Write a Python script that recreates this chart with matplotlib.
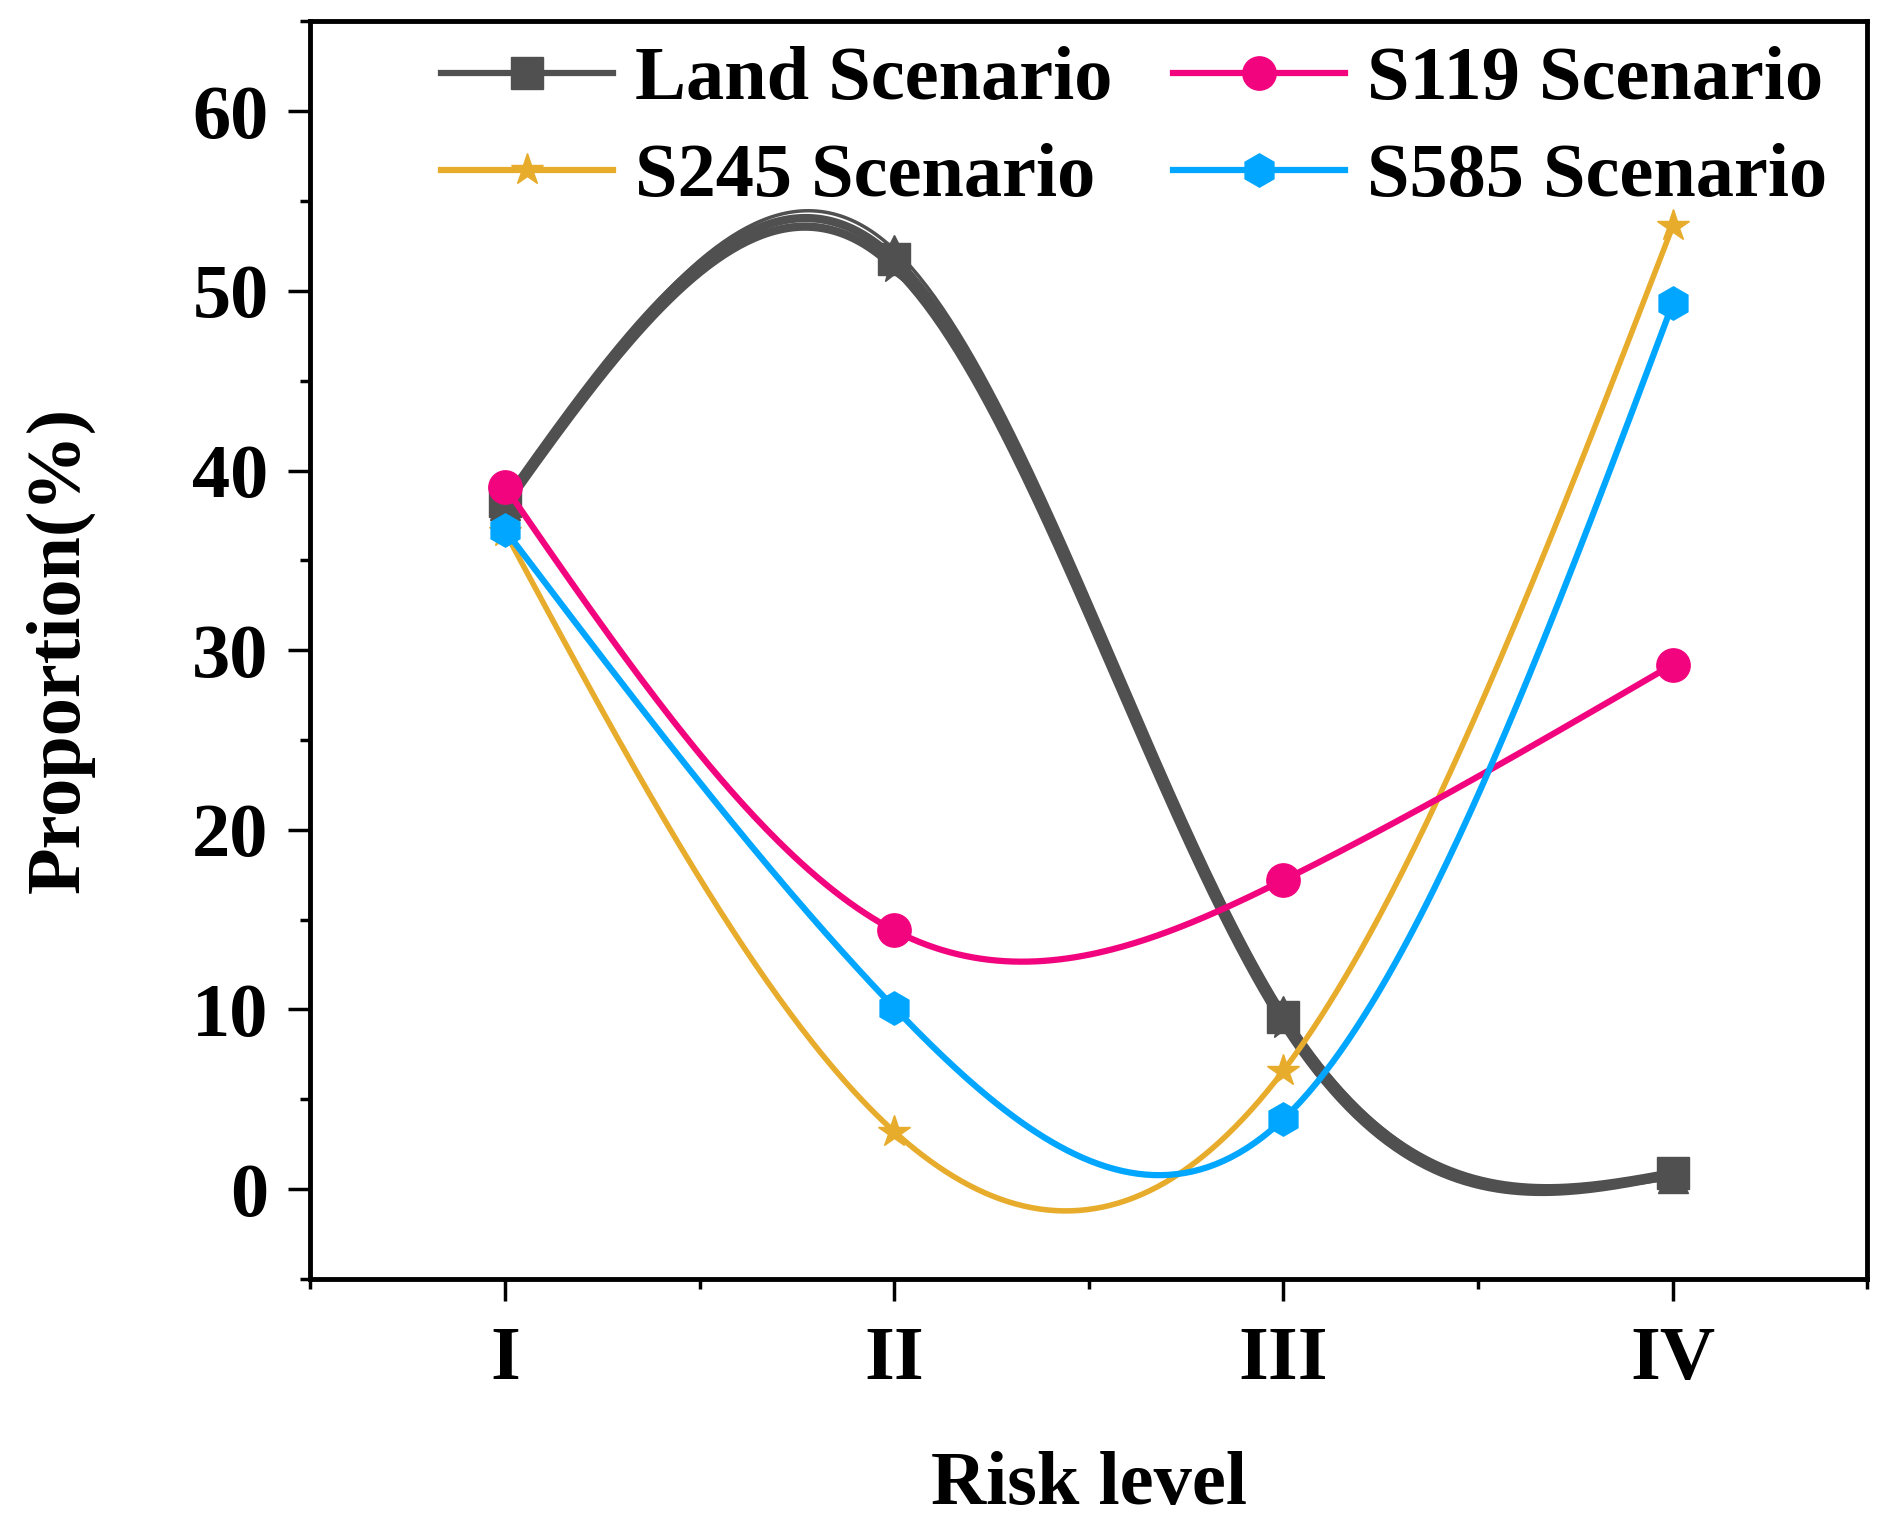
import numpy as np
import matplotlib
matplotlib.use("Agg")
import matplotlib.pyplot as plt

# data
levels = [1, 2, 3, 4]
level_labels = ["I", "II", "III", "IV"]

land_a = [38.3, 51.8, 9.6, 0.9]
land_b = [38.0, 51.3, 9.2, 0.8]
land_c = [38.1, 52.3, 9.9, 0.6]
s119 = [39.1, 14.4, 17.2, 29.2]
s245 = [36.6, 3.2, 6.6, 53.6]
s585 = [36.7, 10.1, 3.9, 49.3]


def natural_spline(x, y, n=300):
    # natural cubic spline through the points (like Origin's "Spline" connect)
    x = np.asarray(x, float)
    y = np.asarray(y, float)
    m = len(x)
    h = np.diff(x)
    A = np.zeros((m, m))
    b = np.zeros(m)
    A[0, 0] = A[-1, -1] = 1
    for i in range(1, m - 1):
        A[i, i - 1] = h[i - 1]
        A[i, i] = 2 * (h[i - 1] + h[i])
        A[i, i + 1] = h[i]
        b[i] = 3 * ((y[i + 1] - y[i]) / h[i] - (y[i] - y[i - 1]) / h[i - 1])
    c = np.linalg.solve(A, b)
    xs = np.linspace(x[0], x[-1], n)
    idx = np.clip(np.searchsorted(x, xs) - 1, 0, m - 2)
    t = xs - x[idx]
    bb = (y[idx + 1] - y[idx]) / h[idx] - h[idx] * (2 * c[idx] + c[idx + 1]) / 3
    dd = (c[idx + 1] - c[idx]) / (3 * h[idx])
    ys = y[idx] + bb * t + c[idx] * t ** 2 + dd * t ** 3
    return xs, ys


plt.rcParams['font.family'] = ['Liberation Serif', 'DejaVu Serif']
plt.rcParams['font.weight'] = 'bold'
plt.rcParams['font.size'] = 55

fig = plt.figure(figsize=(18.92, 15.28), dpi=100)
ax = fig.add_axes([0.164, 0.163, 0.823, 0.823])

gray = '#505050'
pink = '#F2047F'
gold = '#E8AC2C'
blue = '#00A6FF'


def draw(vals, color, marker, ms, lw, label=None, z=2):
    xs, ys = natural_spline(levels, vals)
    ax.plot(xs, ys, color=color, lw=lw, zorder=z, solid_capstyle='round')
    ax.plot(levels, vals, ls='none', marker=marker, ms=ms, color=color, zorder=z + 0.5)
    # proxy for the legend
    return ax.plot([], [], color=color, lw=4.5, marker=marker, ms=ms, label=label)[0]


draw(land_c, gray, '^', 21, 2.5, z=2)
h_land = draw(land_a, gray, 's', 23, 6, 'Land Scenario', z=2)
draw(land_b, gray, '*', 23, 6, z=2)
h245 = draw(s245, gold, '*', 24, 4, 'S245 Scenario', z=3)
h119 = draw(s119, pink, 'o', 24, 4.5, 'S119 Scenario', z=4)
h585 = draw(s585, blue, 'h', 24, 4.5, 'S585 Scenario', z=5)

ax.set_xlim(0.5, 4.5)
ax.set_ylim(-5, 65)
ax.set_xticks(levels)
ax.set_xticklabels(level_labels)
ax.set_xticks([0.5, 1.5, 2.5, 3.5, 4.5], minor=True)
ax.set_yticks([0, 10, 20, 30, 40, 50, 60])
ax.set_yticks(np.arange(-5, 66, 5), minor=True)

for s in ax.spines.values():
    s.set_linewidth(3.5)
ax.tick_params(which='major', direction='out', length=16, width=2.5)
ax.tick_params(which='minor', direction='out', length=7, width=2.5)
ax.tick_params(axis='x', which='major', pad=18)
ax.tick_params(axis='y', which='major', pad=14)

ax.set_xlabel('Risk level', labelpad=40, fontweight='bold')
ax.set_ylabel('Proportion(%)', labelpad=70, fontweight='bold')

ax.legend(handles=[h_land, h245, h119, h585], ncol=2, frameon=False,
          loc='upper right', bbox_to_anchor=(0.99, 1.0), borderaxespad=0,
          borderpad=0.32, handlelength=2.25, handletextpad=0.29,
          columnspacing=0.8, labelspacing=0.36)

fig.savefig('out.png', dpi=100)
